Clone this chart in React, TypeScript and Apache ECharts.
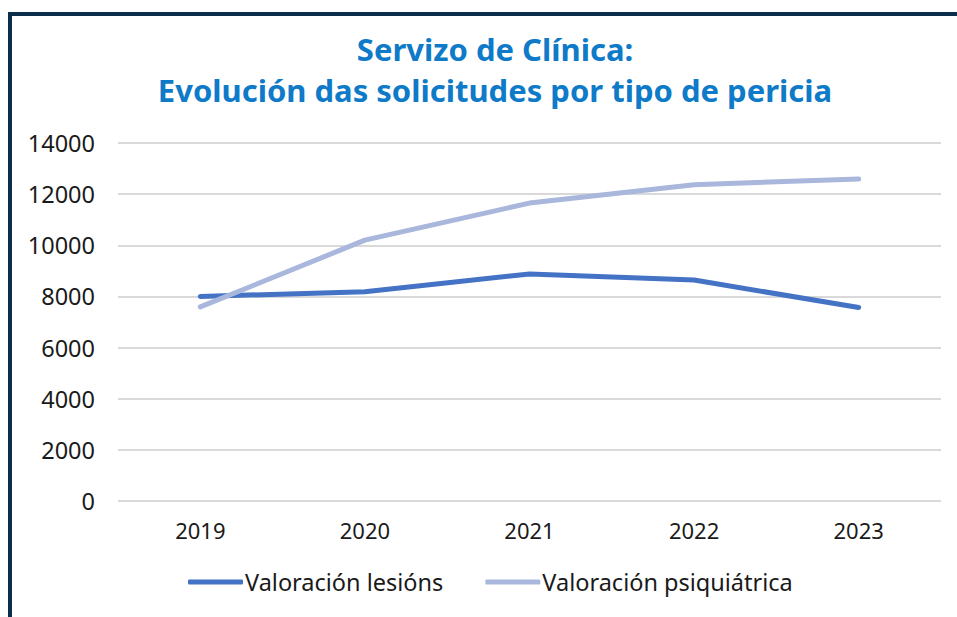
import React, { useEffect, useRef } from "react";
import * as echarts from "echarts";

const categories = ["2019", "2020", "2021", "2022", "2023"];
const lesions = [8000, 8180, 8880, 8640, 7570];
const psiquiatrica = [7590, 10200, 11650, 12370, 12590];
const seriesNames = ["Valoración lesións", "Valoración psiquiátrica"];
const titleLines = ["Servizo de Clínica:", "Evolución das solicitudes por tipo de pericia"];

const FONT = "Noto Sans";

export default function App() {
  const ref = useRef<HTMLDivElement>(null);
  useEffect(() => {
    document.body.style.margin = "0";
    const chart = echarts.init(ref.current!, null, { renderer: "svg" });
    chart.setOption({
      animation: false,
      backgroundColor: "#ffffff",
      title: {
        text: titleLines.join("\n"),
        left: 490,
        textAlign: "center",
        top: 23,
        textStyle: {
          fontFamily: FONT,
          fontSize: 31,
          fontWeight: "bold",
          color: "#0E7AC8",
          lineHeight: 41,
        },
      },
      graphic: [
        { type: "rect", shape: { x: 8, y: 12, width: 949, height: 4 }, style: { fill: "#0C2D4C" } },
        { type: "rect", shape: { x: 8, y: 12, width: 4, height: 605 }, style: { fill: "#0C2D4C" } },
      ],
      grid: { left: 118, right: 16, top: 143, bottom: 116, containLabel: false },
      legend: {
        bottom: 18,
        left: 183,
        itemGap: 42,
        itemWidth: 55,
        itemHeight: 5,
        icon: "roundRect",
        textStyle: { fontFamily: FONT, fontSize: 23.5, color: "#1a1a1a", padding: [0, 0, 0, -3] },
        data: seriesNames,
      },
      xAxis: {
        type: "category",
        data: categories,
        boundaryGap: true,
        axisLine: { show: false },
        axisTick: { show: false },
        axisLabel: { fontFamily: FONT, fontSize: 22, color: "#1a1a1a", margin: 18 },
      },
      yAxis: {
        type: "value",
        min: 0,
        max: 14000,
        interval: 2000,
        axisLine: { show: false },
        axisTick: { show: false },
        splitLine: { lineStyle: { color: "#D9D9D9", width: 2 } },
        axisLabel: {
          fontFamily: FONT,
          fontSize: 23.5,
          color: "#1a1a1a",
          margin: 23,
          formatter: (v: number) => String(v),
        },
      },
      series: [
        {
          name: seriesNames[0],
          type: "line",
          data: lesions,
          symbol: "none",
          lineStyle: { color: "#4472C4", width: 5, cap: "round", join: "round" },
          itemStyle: { color: "#4472C4" },
        },
        {
          name: seriesNames[1],
          type: "line",
          data: psiquiatrica,
          symbol: "none",
          lineStyle: { color: "#A9B7DD", width: 5, cap: "round", join: "round" },
          itemStyle: { color: "#A9B7DD" },
        },
      ],
    });
    return () => chart.dispose();
  }, []);
  return <div ref={ref} style={{ position: "absolute", left: 0, top: 0, width: 957, height: 617 }} />;
}
